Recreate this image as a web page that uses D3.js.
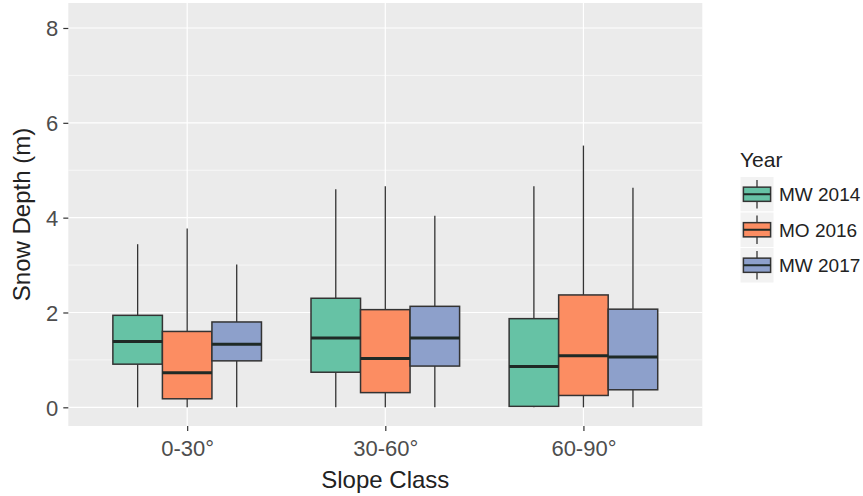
<!DOCTYPE html>
<html>
<head>
<meta charset="utf-8">
<script src="https://cdn.jsdelivr.net/npm/d3@7"></script>
<style>
  html, body { margin: 0; padding: 0; background: #ffffff; }
  svg { display: block; font-family: "Liberation Sans", Arial, sans-serif; }
</style>
</head>
<body>
<svg id="chart" width="863" height="496"></svg>
<script>
// Slope classes on the x axis and survey years in the legend
const categories = ["0-30°", "30-60°", "60-90°"];
const years = ["MW 2014", "MO 2016", "MW 2017"];
const colors = ["#66C2A5", "#FC8D62", "#8DA0CB"];

// Box statistics per slope class: [lower whisker, Q1, median, Q3, upper whisker]
const mw2014 = [[0, 0.91, 1.39, 1.94, 3.44], [0, 0.74, 1.46, 2.30, 4.60], [0, 0.02, 0.86, 1.87, 4.66]];
const mo2016 = [[0, 0.18, 0.73, 1.60, 3.77], [0, 0.31, 1.03, 2.06, 4.66], [0, 0.25, 1.09, 2.37, 5.52]];
const mw2017 = [[0, 0.98, 1.33, 1.80, 3.01], [0, 0.87, 1.46, 2.13, 4.04], [0, 0.37, 1.06, 2.07, 4.63]];
const seriesStats = [mw2014, mo2016, mw2017];

const yMajor = [0, 2, 4, 6, 8];
const yMinor = [1, 3, 5, 7];

const svg = d3.select("#chart");
const panel = { left: 68.3, right: 702.3, top: 3, bottom: 426 };

const x = d3.scalePoint().domain(categories).range([panel.left, panel.right]).padding(0.6);
const y = d3.scaleLinear().domain([-0.394, 8.527]).range([panel.bottom, panel.top]);
const color = d3.scaleOrdinal().domain(years).range(colors);

const step = x.step();
const boxW = step * 0.75 / years.length;

// panel background
svg.append("rect")
  .attr("x", panel.left).attr("y", panel.top)
  .attr("width", panel.right - panel.left).attr("height", panel.bottom - panel.top)
  .attr("fill", "#EBEBEB");

// grid lines
const grid = svg.append("g");
grid.selectAll(".minor").data(yMinor).join("line")
  .attr("x1", panel.left).attr("x2", panel.right)
  .attr("y1", d => y(d)).attr("y2", d => y(d))
  .attr("stroke", "#ffffff").attr("stroke-width", 0.6);
grid.selectAll(".major").data(yMajor).join("line")
  .attr("x1", panel.left).attr("x2", panel.right)
  .attr("y1", d => y(d)).attr("y2", d => y(d))
  .attr("stroke", "#ffffff").attr("stroke-width", 1.2);
grid.selectAll(".vmajor").data(categories).join("line")
  .attr("x1", d => x(d)).attr("x2", d => x(d))
  .attr("y1", panel.top).attr("y2", panel.bottom)
  .attr("stroke", "#ffffff").attr("stroke-width", 1.2);

// box plots
const boxes = [];
seriesStats.forEach((stats, si) => {
  stats.forEach((s, ci) => {
    boxes.push({ cat: categories[ci], year: years[si], si, s });
  });
});

const g = svg.append("g");
const bx = d => x(d.cat) + (d.si - (years.length - 1) / 2) * boxW;

g.selectAll(".whisk-hi").data(boxes).join("line")
  .attr("x1", bx).attr("x2", bx)
  .attr("y1", d => y(d.s[4])).attr("y2", d => y(d.s[3]))
  .attr("stroke", "#333333").attr("stroke-width", 1.3);
g.selectAll(".whisk-lo").data(boxes).join("line")
  .attr("x1", bx).attr("x2", bx)
  .attr("y1", d => y(d.s[1])).attr("y2", d => y(d.s[0]))
  .attr("stroke", "#333333").attr("stroke-width", 1.3);
g.selectAll(".box").data(boxes).join("rect")
  .attr("x", d => bx(d) - boxW / 2)
  .attr("y", d => y(d.s[3]))
  .attr("width", boxW)
  .attr("height", d => y(d.s[1]) - y(d.s[3]))
  .attr("fill", d => color(d.year))
  .attr("stroke", "#333333").attr("stroke-width", 1.5);
g.selectAll(".median").data(boxes).join("line")
  .attr("x1", d => bx(d) - boxW / 2).attr("x2", d => bx(d) + boxW / 2)
  .attr("y1", d => y(d.s[2])).attr("y2", d => y(d.s[2]))
  .attr("stroke", "#1f2a26").attr("stroke-width", 3);

// axes
const yAxis = svg.append("g")
  .attr("transform", `translate(${panel.left},0)`)
  .call(d3.axisLeft(y).tickValues(yMajor).tickSize(5).tickPadding(5).tickFormat(d3.format("d")));
const xAxis = svg.append("g")
  .attr("transform", `translate(0,${panel.bottom})`)
  .call(d3.axisBottom(x).tickSize(5).tickPadding(9));
[yAxis, xAxis].forEach(ax => {
  ax.select(".domain").remove();
  ax.selectAll(".tick line").attr("stroke", "#333333").attr("stroke-width", 1.2);
  ax.selectAll(".tick text").attr("fill", "#4D4D4D")
    .style("font-size", "22px").style("font-family", "'Liberation Sans', Arial, sans-serif");
});
yAxis.selectAll(".tick text").attr("dy", "0.36em");

// axis titles
svg.append("text")
  .attr("x", (panel.left + panel.right) / 2).attr("y", 488)
  .attr("text-anchor", "middle").attr("fill", "#222")
  .style("font-size", "24px").text("Slope Class");
svg.append("text")
  .attr("transform", `translate(30,${(panel.top + panel.bottom) / 2}) rotate(-90)`)
  .attr("text-anchor", "middle").attr("fill", "#222")
  .style("font-size", "24px").text("Snow Depth (m)");

// legend
const legend = svg.append("g").attr("transform", "translate(740,0)");
legend.append("text").attr("x", 0).attr("y", 167)
  .attr("fill", "#222").style("font-size", "21px").text("Year");
const keyW = 34, keyH = 35.5, keyTop = 176.5;
const keys = legend.selectAll(".key").data(years).join("g")
  .attr("transform", (d, i) => `translate(0,${keyTop + i * keyH})`);
keys.append("rect").attr("width", keyW).attr("height", keyH)
  .attr("fill", "#F2F2F2").attr("stroke", "#ffffff").attr("stroke-width", 1);
keys.append("line")
  .attr("x1", keyW / 2).attr("x2", keyW / 2)
  .attr("y1", keyH * 0.1).attr("y2", keyH * 0.9)
  .attr("stroke", "#333333").attr("stroke-width", 1.3);
keys.append("rect")
  .attr("x", keyW * 0.1).attr("y", keyH * 0.3)
  .attr("width", keyW * 0.8).attr("height", keyH * 0.4)
  .attr("fill", d => color(d)).attr("stroke", "#333333").attr("stroke-width", 1.5);
keys.append("line")
  .attr("x1", keyW * 0.1).attr("x2", keyW * 0.9)
  .attr("y1", keyH / 2).attr("y2", keyH / 2)
  .attr("stroke", "#1f2a26").attr("stroke-width", 2);
keys.append("text")
  .attr("x", keyW + 5).attr("y", keyH / 2).attr("dy", "0.36em")
  .attr("fill", "#222").style("font-size", "19px").text(d => d);
</script>
</body>
</html>
